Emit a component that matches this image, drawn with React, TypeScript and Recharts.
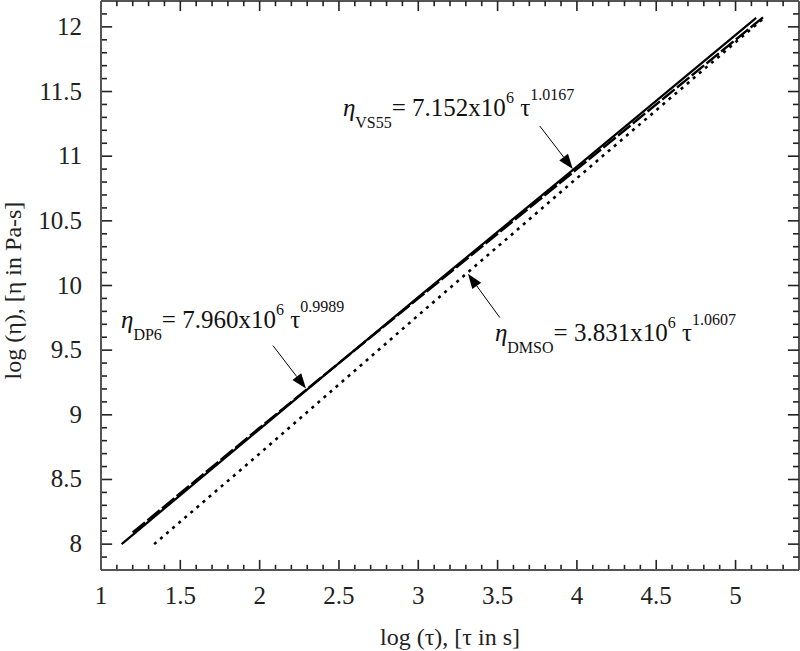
import React from "react";
import {
  LineChart,
  Line,
  XAxis,
  YAxis,
  ReferenceLine,
  ReferenceDot,
} from "recharts";

// log(tau) / log(eta)
const vs55Tau = [1.13, 2.0, 3.0, 4.0, 5.13];
const vs55Eta = [8.0, 8.89, 9.91, 10.92, 12.07];

const dp6Tau = [1.2, 2.0, 3.0, 4.0, 5.18];
const dp6Eta = [8.09, 8.9, 9.9, 10.9, 12.08];

const dmsoTau = [1.335, 2.0, 3.0, 4.0, 5.18];
const dmsoEta = [8.0, 8.7, 9.77, 10.83, 12.07];

const xTicks = [
  1, 1.1, 1.2, 1.3, 1.4, 1.5, 1.6, 1.7, 1.8, 1.9, 2, 2.1, 2.2, 2.3, 2.4, 2.5,
  2.6, 2.7, 2.8, 2.9, 3, 3.1, 3.2, 3.3, 3.4, 3.5, 3.6, 3.7, 3.8, 3.9, 4, 4.1,
  4.2, 4.3, 4.4, 4.5, 4.6, 4.7, 4.8, 4.9, 5, 5.1, 5.2, 5.3,
];
const yTicks = [
  7.9, 8, 8.1, 8.2, 8.3, 8.4, 8.5, 8.6, 8.7, 8.8, 8.9, 9, 9.1, 9.2, 9.3, 9.4,
  9.5, 9.6, 9.7, 9.8, 9.9, 10, 10.1, 10.2, 10.3, 10.4, 10.5, 10.6, 10.7, 10.8,
  10.9, 11, 11.1, 11.2, 11.3, 11.4, 11.5, 11.6, 11.7, 11.8, 11.9, 12, 12.1,
];

const X_MIN = 1;
const X_MAX = 5.4;
const Y_MIN = 7.8;
const Y_MAX = 12.2;

const FONT = "'Liberation Serif', 'Times New Roman', serif";
const AXIS = "#555";
const TICK = "#222";

const toPoints = (xs: number[], ys: number[]) =>
  xs.map((x, i) => ({ x, y: ys[i] }));

const isMajor = (v: number) => Math.abs(v * 2 - Math.round(v * 2)) < 1e-6;

// inward tick marks drawn as short segments on the chart's own scales
function TickMark({ x1, y1, x2, y2 }: any) {
  return <line x1={x1} y1={y1} x2={x2} y2={y2} stroke={TICK} strokeWidth={1.6} />;
}

function bottomTick(props: any) {
  const { x, y, payload } = props;
  const v = payload.value;
  if (!isMajor(v)) return <g />;
  return (
    <text x={x} y={y + 34} textAnchor="middle" fontFamily={FONT} fontSize={25} fill="#222">
      {String(v)}
    </text>
  );
}

function leftTick(props: any) {
  const { x, y, payload } = props;
  const v = payload.value;
  if (!isMajor(v)) return <g />;
  return (
    <text x={x - 19} y={y + 8} textAnchor="end" fontFamily={FONT} fontSize={25} fill="#222">
      {String(v)}
    </text>
  );
}

function Arrow({ x1, y1, x2, y2 }: any) {
  const ang = Math.atan2(y2 - y1, x2 - x1);
  const len = 15;
  const hw = 5.5;
  const bx = x2 - len * Math.cos(ang);
  const by = y2 - len * Math.sin(ang);
  const px = -Math.sin(ang) * hw;
  const py = Math.cos(ang) * hw;
  return (
    <g>
      <line x1={x1} y1={y1} x2={bx} y2={by} stroke="#000" strokeWidth={1} />
      <polygon
        points={`${x2},${y2} ${bx + px},${by + py} ${bx - px},${by - py}`}
        fill="#000"
      />
    </g>
  );
}

function equation(sub: string, coef: string, exp: string) {
  return ({ cx, cy }: any) => (
    <text x={cx} y={cy} fontFamily={FONT} fontSize={25} fill="#111">
      <tspan fontStyle="italic">η</tspan>
      <tspan fontSize={16} dy={12}>{sub}</tspan>
      <tspan dy={-12}>{`= ${coef}x10`}</tspan>
      <tspan fontSize={16} dy={-13}>6</tspan>
      <tspan dy={13}>{" τ"}</tspan>
      <tspan fontSize={16} dy={-16}>{exp}</tspan>
    </text>
  );
}

// tick lengths in data units (≈10px major / 5px minor)
const xLen = (v: number) => (isMajor(v) ? 0.078 : 0.04);
const yLen = (v: number) => (isMajor(v) ? 0.07 : 0.038);

export default function App() {
  return (
    <div style={{ position: "absolute", left: 0, top: 0, background: "#fff" }}>
      <LineChart
        width={800}
        height={651}
        margin={{ top: 1, right: 1, bottom: 0, left: 1 }}
      >
        <XAxis
          type="number"
          dataKey="x"
          domain={[X_MIN, X_MAX]}
          ticks={xTicks}
          interval={0}
          allowDataOverflow
          height={81}
          tickSize={0}
          tickMargin={0}
          tickLine={false}
          tick={bottomTick}
          axisLine={{ stroke: AXIS, strokeWidth: 2 }}
          label={({ viewBox }: any) => (
            <text
              x={viewBox.x + viewBox.width / 2}
              y={viewBox.y + 75}
              textAnchor="middle"
              fontFamily={FONT}
              fontSize={24}
              fill="#222"
            >
              log (τ), [τ in s]
            </text>
          )}
        />
        <YAxis
          type="number"
          domain={[Y_MIN, Y_MAX]}
          ticks={yTicks}
          interval={0}
          allowDataOverflow
          width={100}
          tickSize={0}
          tickMargin={0}
          tickLine={false}
          tick={leftTick}
          axisLine={{ stroke: AXIS, strokeWidth: 2 }}
          label={({ viewBox }: any) => {
            const cx = viewBox.x + 20;
            const cy = viewBox.y + viewBox.height / 2 + 5;
            return (
              <text
                x={cx}
                y={cy}
                transform={`rotate(-90 ${cx} ${cy})`}
                textAnchor="middle"
                fontFamily={FONT}
                fontSize={24}
                fill="#222"
              >
                log (η), [η in Pa-s]
              </text>
            );
          }}
        />

        {/* top and right frame */}
        <ReferenceLine y={Y_MAX} stroke={AXIS} strokeWidth={2} ifOverflow="visible" />
        <ReferenceLine x={X_MAX} stroke={AXIS} strokeWidth={2} ifOverflow="visible" />

        {xTicks.map((v) => (
          <ReferenceLine
            key={`xb${v}`}
            segment={[{ x: v, y: Y_MIN }, { x: v, y: Y_MIN + xLen(v) * 1.0 }]}
            ifOverflow="visible"
            shape={(p: any) => <TickMark {...p} />}
          />
        ))}
        {xTicks.map((v) => (
          <ReferenceLine
            key={`xt${v}`}
            segment={[{ x: v, y: Y_MAX }, { x: v, y: Y_MAX - xLen(v) }]}
            ifOverflow="visible"
            shape={(p: any) => <TickMark {...p} />}
          />
        ))}
        {yTicks.map((v) => (
          <ReferenceLine
            key={`yl${v}`}
            segment={[{ x: X_MIN, y: v }, { x: X_MIN + yLen(v), y: v }]}
            ifOverflow="visible"
            shape={(p: any) => <TickMark {...p} />}
          />
        ))}
        {yTicks.map((v) => (
          <ReferenceLine
            key={`yr${v}`}
            segment={[{ x: X_MAX, y: v }, { x: X_MAX - yLen(v), y: v }]}
            ifOverflow="visible"
            shape={(p: any) => <TickMark {...p} />}
          />
        ))}

        <Line
          data={toPoints(dmsoTau, dmsoEta)}
          dataKey="y"
          stroke="#000"
          strokeWidth={2.6}
          strokeDasharray="3 5"
          dot={false}
          isAnimationActive={false}
        />
        <Line
          data={toPoints(dp6Tau, dp6Eta)}
          dataKey="y"
          stroke="#000"
          strokeWidth={2.4}
          strokeDasharray="16 3"
          dot={false}
          isAnimationActive={false}
        />
        <Line
          data={toPoints(vs55Tau, vs55Eta)}
          dataKey="y"
          stroke="#000"
          strokeWidth={2.2}
          dot={false}
          isAnimationActive={false}
        />

        <ReferenceLine
          segment={[{ x: 3.766, y: 11.233 }, { x: 3.974, y: 10.901 }]}
          shape={(p: any) => <Arrow {...p} />}
        />
        <ReferenceLine
          segment={[{ x: 2.084, y: 9.535 }, { x: 2.292, y: 9.203 }]}
          shape={(p: any) => <Arrow {...p} />}
        />
        <ReferenceLine
          segment={[{ x: 3.514, y: 9.752 }, { x: 3.313, y: 10.091 }]}
          shape={(p: any) => <Arrow {...p} />}
        />

        <ReferenceDot x={2.525} y={11.31} r={0} shape={equation("VS55", "7.152", "1.0167")} />
        <ReferenceDot x={1.126} y={9.674} r={0} shape={equation("DP6", "7.960", "0.9989")} />
        <ReferenceDot x={3.483} y={9.574} r={0} shape={equation("DMSO", "3.831", "1.0607")} />
      </LineChart>
    </div>
  );
}
